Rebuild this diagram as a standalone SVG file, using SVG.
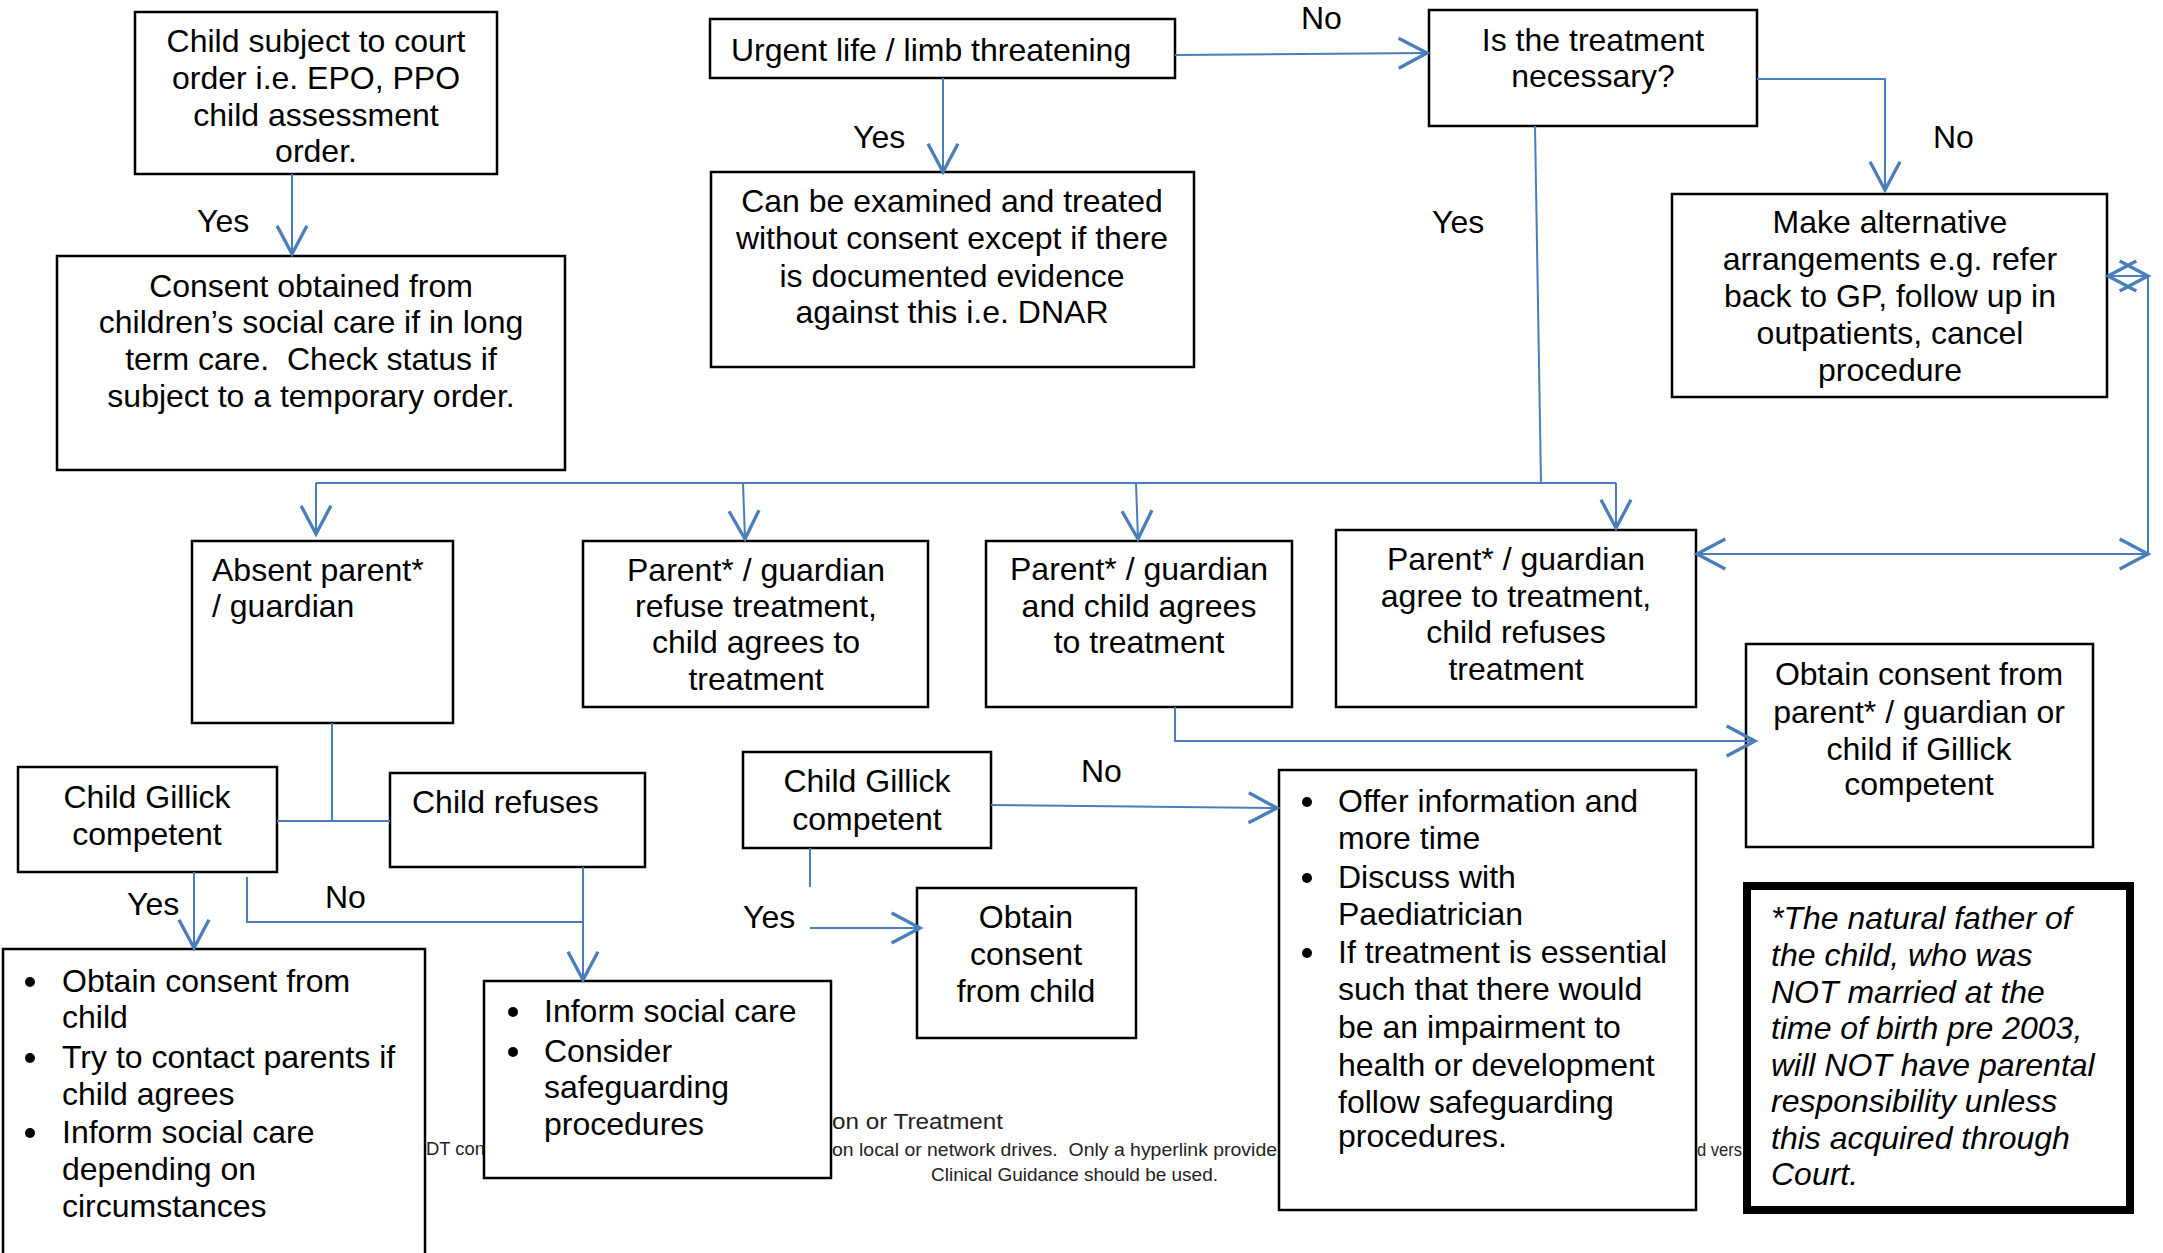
<svg xmlns="http://www.w3.org/2000/svg" width="2163" height="1253" viewBox="0 0 2163 1253">
<defs>
<style>
.box{fill:#fff;stroke:#000;stroke-width:2.5}
.t{font-family:"Liberation Sans",Arial,sans-serif;font-size:32px;fill:#000}
.c{text-anchor:middle}
.i{font-style:italic}
.ft{font-family:"Liberation Sans",Arial,sans-serif;fill:#222}
.ln{fill:none;stroke:#4A7EBB;stroke-width:2}
.bul{fill:#000}
.pre{white-space:pre}
</style>
<marker id="ah" markerUnits="userSpaceOnUse" markerWidth="40" markerHeight="40" viewBox="-20 -12 24 24" refX="0" refY="0" orient="auto-start-reverse">
<path d="M-17,-9 L0,0 L-17,9" fill="none" stroke="#4A7EBB" stroke-width="2"/>
</marker>
</defs>
<rect width="2163" height="1253" fill="#fff"/>

<g id="footer">
<text class="ft" x="426" y="1155" font-size="19" textLength="59" lengthAdjust="spacingAndGlyphs">DT con</text>
<text class="ft" x="832" y="1129" font-size="22" textLength="171" lengthAdjust="spacingAndGlyphs">on or Treatment</text>
<text class="ft pre" xml:space="preserve" x="832" y="1156" font-size="19" textLength="445" lengthAdjust="spacingAndGlyphs">on local or network drives.  Only a hyperlink provide</text>
<text class="ft" x="931" y="1181" font-size="19" textLength="287" lengthAdjust="spacingAndGlyphs">Clinical Guidance should be used.</text>
<text class="ft" x="1697" y="1156" font-size="19" textLength="45" lengthAdjust="spacingAndGlyphs">d vers</text>
</g>

<g id="court-order">
<rect class="box" x="135" y="12" width="362" height="162"/>
<text class="t c"><tspan x="316" y="52">Child subject to court</tspan><tspan x="316" y="89">order i.e. EPO, PPO</tspan><tspan x="316" y="126">child assessment</tspan><tspan x="316" y="162">order.</tspan></text>
</g>
<g id="consent-social-care">
<rect class="box" x="57" y="256" width="508" height="214"/>
<text class="t c pre" xml:space="preserve"><tspan x="311" y="297">Consent obtained from</tspan><tspan x="311" y="333">children’s social care if in long</tspan><tspan x="311" y="370">term care.  Check status if</tspan><tspan x="311" y="407">subject to a temporary order.</tspan></text>
</g>
<g id="urgent">
<rect class="box" x="710" y="19" width="465" height="59"/>
<text class="t" x="731" y="61">Urgent life / limb threatening</text>
</g>
<g id="examined-without-consent">
<rect class="box" x="711" y="172" width="483" height="195"/>
<text class="t c"><tspan x="952" y="212">Can be examined and treated</tspan><tspan x="952" y="249">without consent except if there</tspan><tspan x="952" y="287">is documented evidence</tspan><tspan x="952" y="323">against this i.e. DNAR</tspan></text>
</g>
<g id="necessary">
<rect class="box" x="1429" y="10" width="328" height="116"/>
<text class="t c"><tspan x="1593" y="51">Is the treatment</tspan><tspan x="1593" y="87">necessary?</tspan></text>
</g>
<g id="alternative">
<rect class="box" x="1672" y="194" width="435" height="203"/>
<text class="t c"><tspan x="1890" y="233">Make alternative</tspan><tspan x="1890" y="270">arrangements e.g. refer</tspan><tspan x="1890" y="307">back to GP, follow up in</tspan><tspan x="1890" y="344">outpatients, cancel</tspan><tspan x="1890" y="381">procedure</tspan></text>
</g>
<g id="absent-parent">
<rect class="box" x="192" y="541" width="261" height="182"/>
<text class="t"><tspan x="212" y="581">Absent parent*</tspan><tspan x="212" y="617">/ guardian</tspan></text>
</g>
<g id="parent-refuse">
<rect class="box" x="583" y="541" width="345" height="166"/>
<text class="t c"><tspan x="756" y="581">Parent* / guardian</tspan><tspan x="756" y="617">refuse treatment,</tspan><tspan x="756" y="653">child agrees to</tspan><tspan x="756" y="690">treatment</tspan></text>
</g>
<g id="parent-child-agree">
<rect class="box" x="986" y="541" width="306" height="166"/>
<text class="t c"><tspan x="1139" y="580">Parent* / guardian</tspan><tspan x="1139" y="617">and child agrees</tspan><tspan x="1139" y="653">to treatment</tspan></text>
</g>
<g id="child-refuses-treatment">
<rect class="box" x="1336" y="530" width="360" height="177"/>
<text class="t c"><tspan x="1516" y="570">Parent* / guardian</tspan><tspan x="1516" y="607">agree to treatment,</tspan><tspan x="1516" y="643">child refuses</tspan><tspan x="1516" y="680">treatment</tspan></text>
</g>
<g id="gillick-left">
<rect class="box" x="18" y="767" width="259" height="105"/>
<text class="t c"><tspan x="147" y="808">Child Gillick</tspan><tspan x="147" y="845">competent</tspan></text>
</g>
<g id="child-refuses">
<rect class="box" x="390" y="773" width="255" height="94"/>
<text class="t" x="412" y="813">Child refuses</text>
</g>
<g id="gillick-middle">
<rect class="box" x="743" y="752" width="248" height="96"/>
<text class="t c"><tspan x="867" y="792">Child Gillick</tspan><tspan x="867" y="830">competent</tspan></text>
</g>
<g id="obtain-from-child">
<rect class="box" x="917" y="888" width="219" height="150"/>
<text class="t c"><tspan x="1026" y="928">Obtain</tspan><tspan x="1026" y="965">consent</tspan><tspan x="1026" y="1002">from child</tspan></text>
</g>
<g id="left-actions">
<rect class="box" x="3" y="949" width="422" height="320"/>
<circle class="bul" cx="30" cy="982" r="5"/>
<circle class="bul" cx="30" cy="1058" r="5"/>
<circle class="bul" cx="30" cy="1133" r="5"/>
<text class="t"><tspan x="62" y="992">Obtain consent from</tspan><tspan x="62" y="1028">child</tspan><tspan x="62" y="1068">Try to contact parents if</tspan><tspan x="62" y="1105">child agrees</tspan><tspan x="62" y="1143">Inform social care</tspan><tspan x="62" y="1180">depending on</tspan><tspan x="62" y="1217">circumstances</tspan></text>
</g>
<g id="inform-social-care">
<rect class="box" x="484" y="981" width="347" height="197"/>
<circle class="bul" cx="513" cy="1012" r="5"/>
<circle class="bul" cx="513" cy="1052" r="5"/>
<text class="t"><tspan x="544" y="1022">Inform social care</tspan><tspan x="544" y="1062">Consider</tspan><tspan x="544" y="1098">safeguarding</tspan><tspan x="544" y="1135">procedures</tspan></text>
</g>
<g id="offer-information">
<rect class="box" x="1279" y="770" width="417" height="440"/>
<circle class="bul" cx="1307" cy="802" r="5"/>
<circle class="bul" cx="1307" cy="878" r="5"/>
<circle class="bul" cx="1307" cy="953" r="5"/>
<text class="t"><tspan x="1338" y="812">Offer information and</tspan><tspan x="1338" y="849">more time</tspan><tspan x="1338" y="888">Discuss with</tspan><tspan x="1338" y="925">Paediatrician</tspan><tspan x="1338" y="963">If treatment is essential</tspan><tspan x="1338" y="1000">such that there would</tspan><tspan x="1338" y="1038">be an impairment to</tspan><tspan x="1338" y="1076">health or development</tspan><tspan x="1338" y="1113">follow safeguarding</tspan><tspan x="1338" y="1147">procedures.</tspan></text>
</g>
<g id="obtain-parent-or-child">
<rect class="box" x="1746" y="644" width="347" height="203"/>
<text class="t c"><tspan x="1919" y="685">Obtain consent from</tspan><tspan x="1919" y="723">parent* / guardian or</tspan><tspan x="1919" y="760">child if Gillick</tspan><tspan x="1919" y="795">competent</tspan></text>
</g>
<g id="footnote">
<rect x="1747" y="886" width="383" height="324" fill="#fff" stroke="#000" stroke-width="8"/>
<text class="t i"><tspan x="1771" y="929">*The natural father of</tspan><tspan x="1771" y="966">the child, who was</tspan><tspan x="1771" y="1003">NOT married at the</tspan><tspan x="1771" y="1039">time of birth pre 2003,</tspan><tspan x="1771" y="1076">will NOT have parental</tspan><tspan x="1771" y="1112">responsibility unless</tspan><tspan x="1771" y="1149">this acquired through</tspan><tspan x="1771" y="1185">Court.</tspan></text>
</g>

<g id="connectors">
<path class="ln" d="M292,174 L292,254" marker-end="url(#ah)"/>
<path class="ln" d="M943,78 L943,172" marker-end="url(#ah)"/>
<path class="ln" d="M1175,55 L1427,53" marker-end="url(#ah)"/>
<path class="ln" d="M1757,79 L1885,79 L1885,190" marker-end="url(#ah)"/>
<path class="ln" d="M1535,126 L1541,483"/>
<path class="ln" d="M316,483 L1616,483"/>
<path class="ln" d="M316,483 L316,534" marker-end="url(#ah)"/>
<path class="ln" d="M743,483 L745,539" marker-end="url(#ah)"/>
<path class="ln" d="M1136,483 L1138,539" marker-end="url(#ah)"/>
<path class="ln" d="M1616,483 L1616,528" marker-end="url(#ah)"/>
<path class="ln" d="M2108,276 L2148,276" marker-start="url(#ah)" marker-end="url(#ah)"/>
<path class="ln" d="M2148,276 L2148,554"/>
<path class="ln" d="M1697,554 L2148,554" marker-start="url(#ah)" marker-end="url(#ah)"/>
<path class="ln" d="M1175,707 L1175,741 L1755,741" marker-end="url(#ah)"/>
<path class="ln" d="M332,723 L332,821"/>
<path class="ln" d="M277,821 L390,821"/>
<path class="ln" d="M194,872 L194,948" marker-end="url(#ah)"/>
<path class="ln" d="M247,877 L247,922 L583,922"/>
<path class="ln" d="M583,867 L583,980" marker-end="url(#ah)"/>
<path class="ln" d="M810,848 L810,887"/>
<path class="ln" d="M810,928 L920,928" marker-end="url(#ah)"/>
<path class="ln" d="M991,805 L1277,808" marker-end="url(#ah)"/>
</g>

<g id="labels">
<text class="t" x="1301" y="29">No</text>
<text class="t" x="197" y="232">Yes</text>
<text class="t" x="853" y="148">Yes</text>
<text class="t" x="1432" y="233">Yes</text>
<text class="t" x="1933" y="148">No</text>
<text class="t" x="127" y="915">Yes</text>
<text class="t" x="325" y="908">No</text>
<text class="t" x="743" y="928">Yes</text>
<text class="t" x="1081" y="782">No</text>
</g>
</svg>
